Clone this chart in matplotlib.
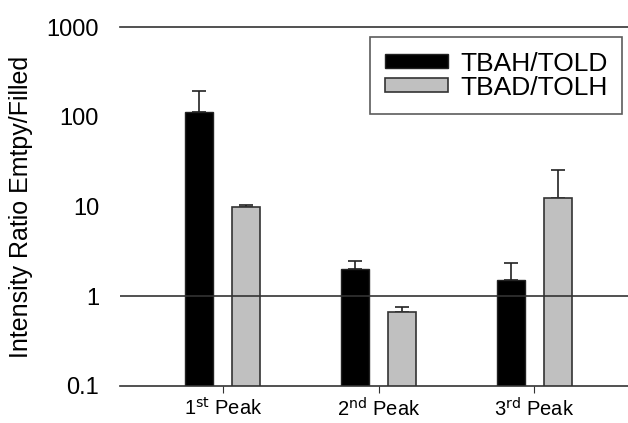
import numpy as np
import matplotlib.pyplot as plt

plt.rcParams['font.family'] = ['Liberation Sans', 'DejaVu Sans']

peaks = ['1$^{\\rm st}$ Peak', '2$^{\\rm nd}$ Peak', '3$^{\\rm rd}$ Peak']
tbah_told = [114, 2.03, 1.5]
tbah_told_err = [195, 2.5, 2.33]    # top of error bar
tbad_tolh = [10.0, 0.675, 12.3]
tbad_tolh_err = [10.4, 0.75, 25.6]

x = np.arange(len(peaks))
w = 0.18
off = 0.15

fig = plt.figure(figsize=(6.28, 4.23), dpi=100)
ax = fig.add_axes([0.191, 0.0875, 0.809, 0.8485])
ax.set_yscale('log')

up1 = np.array(tbah_told_err) - np.array(tbah_told)
up2 = np.array(tbad_tolh_err) - np.array(tbad_tolh)

ax.bar(x - off, tbah_told, w, color='black', edgecolor='#222222', linewidth=1,
       label='TBAH/TOLD', zorder=2)
ax.bar(x + off, tbad_tolh, w, color='#c0c0c0', edgecolor='#333333', linewidth=1.2,
       label='TBAD/TOLH', zorder=2)
ax.errorbar(x - off, tbah_told, yerr=[np.zeros(3), up1], fmt='none', ecolor='#222222',
            elinewidth=1.2, capsize=5, capthick=1.2, zorder=1)
ax.errorbar(x + off, tbad_tolh, yerr=[np.zeros(3), up2], fmt='none', ecolor='#222222',
            elinewidth=1.2, capsize=5, capthick=1.2, zorder=1)

ax.axhline(1, color='#333333', linewidth=1.2, zorder=3)

ax.set_ylim(0.1, 1000)
ax.set_xlim(-0.66, 2.6)
ax.set_yticks([0.1, 1, 10, 100, 1000])
ax.set_yticklabels(['0.1', '1', '10', '100', '1000'])
ax.yaxis.set_minor_locator(plt.NullLocator())
ax.tick_params(axis='y', length=0, labelsize=17, pad=15)
ax.set_xticks(x)
ax.set_xticklabels(peaks)
ax.tick_params(axis='x', length=5, labelsize=14.5, pad=3, color='#333333')

ax.spines['left'].set_visible(False)
ax.spines['right'].set_visible(False)
for s in ['top', 'bottom']:
    ax.spines[s].set_color('#333333')
    ax.spines[s].set_linewidth(1.2)

ax.set_ylabel('Intensity Ratio Emtpy/Filled', fontsize=18, labelpad=10)

leg = ax.legend(loc='upper right', bbox_to_anchor=(0.988, 0.972), fontsize=19,
                frameon=True, fancybox=False, edgecolor='#333333',
                handlelength=2.4, handleheight=0.45, borderpad=0.55,
                labelspacing=0.0, handletextpad=0.45, borderaxespad=0)
leg.get_frame().set_linewidth(1.2)

fig.savefig('out.png', dpi=100)
